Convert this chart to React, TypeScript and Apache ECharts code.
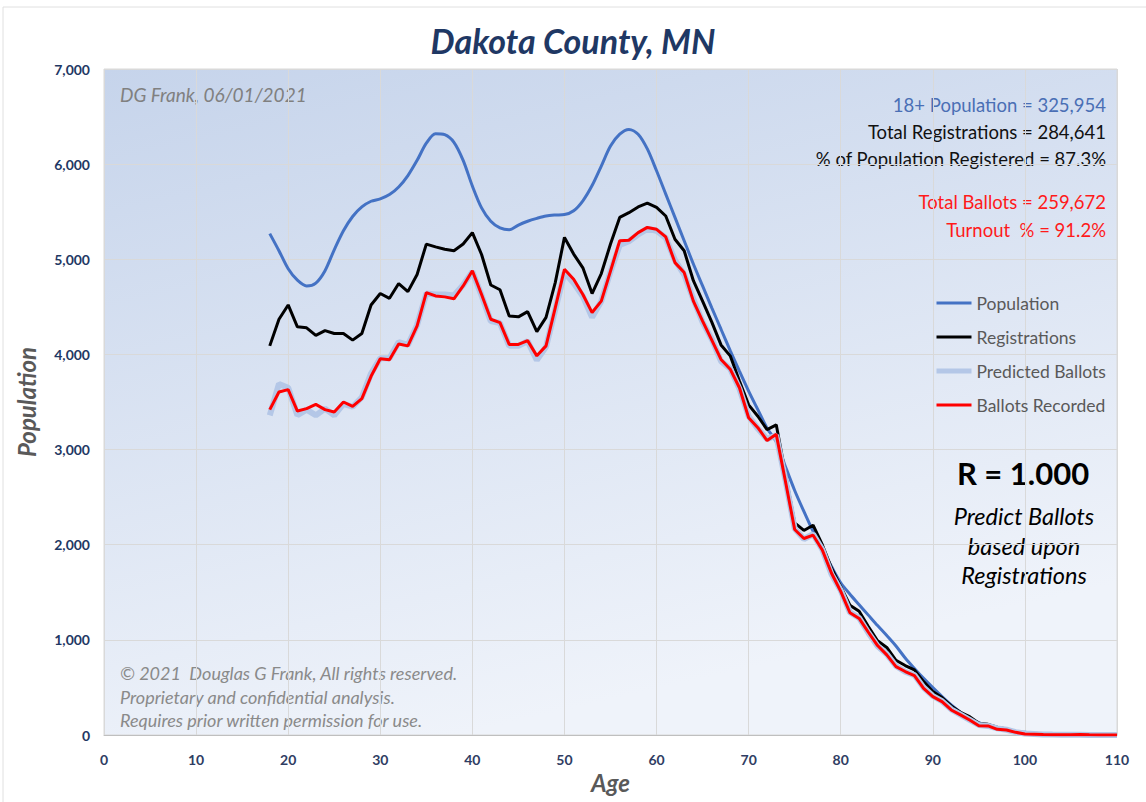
import React, { useEffect, useRef } from "react";
import * as echarts from "echarts";

const ages: number[] = [];
for (let a = 18; a <= 110; a++) ages.push(a);

const population = [
  5270, 5090, 4900, 4780, 4720, 4750, 4880, 5100, 5300, 5450, 5550, 5610, 5635, 5680, 5760, 5880, 6040, 6220, 6320, 6310,
  6230, 6040, 5770, 5540, 5400, 5330, 5310, 5360, 5400, 5430, 5455, 5465, 5470, 5510, 5615, 5775, 5980, 6190, 6315, 6365,
  6315, 6160, 5930, 5685, 5440, 5195, 4950, 4720, 4490, 4265, 4040, 3825, 3615, 3420, 3225, 3080, 2820, 2570, 2350, 2140,
  1950, 1770, 1600, 1480, 1370, 1260, 1150, 1045, 935, 810, 700, 595, 498, 404, 316, 239, 175, 130, 95, 70,
  49, 35, 28, 20, 14, 10, 7, 5, 3, 2, 1, 1, 0,
];

const registrations = [
  4090, 4370, 4520, 4290, 4280, 4200, 4250, 4220, 4220, 4150, 4220, 4520, 4640, 4590, 4745, 4660, 4840, 5160, 5130, 5105,
  5090, 5160, 5280, 5050, 4730, 4680, 4405, 4395, 4450, 4240, 4390, 4755, 5230, 5055, 4910, 4640, 4850, 5160, 5440, 5490,
  5550, 5590, 5545, 5455, 5210, 5090, 4775, 4560, 4340, 4100, 3985, 3720, 3470, 3350, 3210, 3260, 2740, 2230, 2150, 2205,
  2000, 1755, 1560, 1365, 1300, 1140, 990, 920, 785, 730, 684, 561, 456, 393, 305, 239, 193, 123, 112, 81,
  63, 35, 18, 12, 8, 5, 4, 3, 2, 1, 1, 0, 0,
];

const predictedBallots = [
  3360, 3690, 3650, 3360, 3420, 3360, 3430, 3360, 3480, 3450, 3550, 3800, 3960, 3960, 4130, 4100, 4310, 4640, 4630, 4630,
  4620, 4730, 4870, 4620, 4350, 4330, 4090, 4090, 4140, 3940, 4080, 4470, 4860, 4750, 4610, 4390, 4560, 4870, 5150, 5190,
  5260, 5320, 5300, 5225, 4990, 4840, 4580, 4340, 4160, 3930, 3850, 3640, 3350, 3220, 3110, 3150, 2680, 2170, 2060, 2110,
  1950, 1690, 1520, 1290, 1230, 1075, 935, 850, 725, 665, 630, 500, 410, 355, 270, 215, 160, 105, 95, 70,
  55, 30, 15, 10, 6, 4, 3, 2, 2, 1, 1, 0, 0,
];

const ballotsRecorded = [
  3420, 3605, 3630, 3405, 3430, 3475, 3420, 3395, 3500, 3455, 3535, 3770, 3955, 3945, 4110, 4090, 4300, 4650, 4615, 4605,
  4585, 4720, 4880, 4630, 4370, 4335, 4105, 4105, 4145, 3985, 4090, 4490, 4895, 4790, 4630, 4440, 4560, 4875, 5195, 5200,
  5280, 5335, 5315, 5235, 4965, 4860, 4560, 4350, 4150, 3947, 3845, 3650, 3335, 3230, 3095, 3160, 2665, 2160, 2065, 2100,
  1945, 1700, 1510, 1285, 1225, 1080, 940, 842, 719, 667, 625, 491, 404, 351, 263, 211, 158, 98, 95, 60,
  53, 28, 11, 8, 5, 3, 2, 2, 4, 2, 1, 1, 0,
];

const seriesNames = ["Population", "Registrations", "Predicted Ballots", "Ballots Recorded"];
const seriesColors = ["#4472c4", "#000000", "#b4c7e7", "#ff0000"];
const seriesWidths = [3, 3, 6, 3];
const statLines = [
  "18+ Population = 325,954",
  "Total Registrations = 284,641",
  "% of Population Registered = 87.3%",
  "Total Ballots = 259,672",
  "Turnout  % = 91.2%",
];
const copyrightLines = [
  "© 2021  Douglas G Frank, All rights reserved.",
  "Proprietary and confidential analysis.",
  "Requires prior written permission for use.",
];
const noteLines = ["Predict Ballots", "based upon", "Registrations"];

const FONT = "Lato, 'Open Sans', sans-serif";

function pairs(vals: number[]) {
  return ages.map((a, i) => [a, vals[i]]);
}

export default function App() {
  const ref = useRef<HTMLDivElement>(null);
  useEffect(() => {
    if (!ref.current) return;
    const chart = echarts.init(ref.current, null, { renderer: "svg" });
    const statColors = ["#4a6fb5", "#111111", "#111111", "#ff1a1a", "#ff1a1a"];
    const statY = [105, 132, 159, 202, 230];
    const graphics: any[] = [
      { type: "line", shape: { x1: 3, y1: 7, x2: 1146, y2: 7 }, style: { stroke: "#e0e0e0", lineWidth: 1 } },
      { type: "line", shape: { x1: 3, y1: 7, x2: 3, y2: 802 }, style: { stroke: "#e0e0e0", lineWidth: 1 } },
      {
        type: "text", x: 120, y: 94,
        style: { text: "DG Frank, 06/01/2021", fill: "#808080", font: `italic 19px ${FONT}`, textVerticalAlign: "middle" },
      },
      ...statLines.map((t, i) => ({
        type: "text", x: 1106, y: statY[i],
        style: { text: t, fill: statColors[i], font: `18.5px ${FONT}`, textAlign: "right", textVerticalAlign: "middle" },
      })),
      {
        type: "text", x: 1023, y: 473,
        style: { text: "R = 1.000", fill: "#000", font: `bold 31px ${FONT}`, textAlign: "center", textVerticalAlign: "middle" },
      },
      ...noteLines.map((t, i) => ({
        type: "text", x: 1024, y: 516 + i * 29.5,
        style: { text: t, fill: "#000", font: `italic 23.5px ${FONT}`, textAlign: "center", textVerticalAlign: "middle" },
      })),
      ...copyrightLines.map((t, i) => ({
        type: "text", x: 120, y: 673 + i * 23.5,
        style: { text: t, fill: "#8a8a8a", font: `italic 18px ${FONT}`, textAlign: "left", textVerticalAlign: "middle" },
      })),
    ];
    chart.setOption({
      animation: false,
      backgroundColor: "#ffffff",
      title: {
        text: "Dakota County, MN",
        left: "center",
        top: 18,
        textStyle: { fontFamily: FONT, fontSize: 34, fontWeight: "bold", fontStyle: "italic", color: "#1f3864" },
      },
      grid: {
        left: 104, right: 1146 - 1117, top: 69, bottom: 67,
        show: true,
        borderColor: "#d9d9d9",
        borderWidth: 1,
        backgroundColor: new echarts.graphic.LinearGradient(0, 0, 0.35, 1, [
          { offset: 0, color: "#c6d4eb" },
          { offset: 1, color: "#eff3fa" },
        ]),
      },
      legend: {
        data: seriesNames.map((n, i) => ({
          name: n,
          lineStyle: { color: seriesColors[i], width: i === 2 ? 5 : 3 },
        })),
        orient: "vertical",
        left: 929,
        top: 289,
        itemWidth: 35,
        itemHeight: 14,
        itemGap: 16,
        itemStyle: { opacity: 0 },
        textStyle: { fontFamily: FONT, fontSize: 17.5, color: "#595959" },
      },
      xAxis: {
        type: "value",
        min: 0, max: 110, interval: 10,
        name: "Age",
        nameLocation: "middle",
        nameGap: 34,
        nameTextStyle: { fontFamily: FONT, fontSize: 24, fontWeight: "bold", fontStyle: "italic", color: "#595959" },
        axisLine: { lineStyle: { color: "#bfbfbf" } },
        axisTick: { show: false },
        axisLabel: { fontFamily: FONT, fontSize: 14, fontWeight: "bold", color: "#2f3d63", margin: 17 },
        splitLine: { show: true, lineStyle: { color: "#d9d9d9", width: 1 } },
      },
      yAxis: {
        type: "value",
        min: 0, max: 7000, interval: 1000,
        name: "Population",
        nameLocation: "middle",
        nameGap: 66,
        nameTextStyle: { fontFamily: FONT, fontSize: 24, fontWeight: "bold", fontStyle: "italic", color: "#595959" },
        axisLine: { show: false },
        axisTick: { show: false },
        axisLabel: {
          fontFamily: FONT, fontSize: 14, fontWeight: "bold", color: "#1f3864", margin: 14,
          formatter: (v: number) => v.toLocaleString("en-US"),
        },
        splitLine: { show: true, lineStyle: { color: "#d9d9d9", width: 1 } },
      },
      series: [
        {
          name: seriesNames[0], type: "line", data: pairs(population), symbol: "none", smooth: 0.3,
          lineStyle: { color: seriesColors[0], width: seriesWidths[0] }, itemStyle: { color: seriesColors[0] }, z: 2,
        },
        {
          name: seriesNames[1], type: "line", data: pairs(registrations), symbol: "none",
          lineStyle: { color: seriesColors[1], width: seriesWidths[1] }, itemStyle: { color: seriesColors[1] }, z: 3,
        },
        {
          name: seriesNames[2], type: "line", data: pairs(predictedBallots), symbol: "none",
          lineStyle: { color: seriesColors[2], width: seriesWidths[2] }, itemStyle: { color: seriesColors[2] }, z: 4,
        },
        {
          name: seriesNames[3], type: "line", data: pairs(ballotsRecorded), symbol: "none",
          lineStyle: { color: seriesColors[3], width: seriesWidths[3] }, itemStyle: { color: seriesColors[3] }, z: 5,
        },
      ],
      graphic: graphics,
    });
    return () => chart.dispose();
  }, []);
  return (
    <div
      ref={ref}
      style={{ position: "fixed", left: 0, top: 0, width: 1146, height: 802 }}
    />
  );
}
